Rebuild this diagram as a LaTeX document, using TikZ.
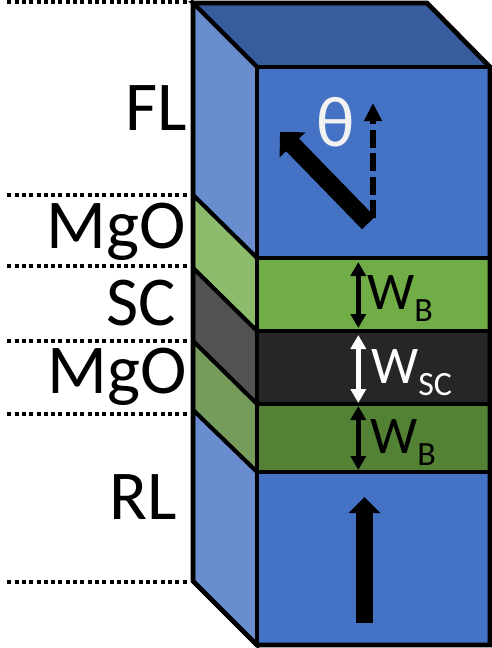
\documentclass[tikz,border=0pt]{standalone}
\usepackage{fontspec}
\setmainfont{Carlito}
\usepackage{xcolor}
\usepackage{tikz}
\usetikzlibrary{arrows.meta, positioning, calc}
\definecolor{frontblue}{HTML}{4472C4}
\definecolor{topblue}{HTML}{385D9E}
\definecolor{sideblue}{HTML}{6A8DD0}
\definecolor{frontgreen}{HTML}{70AD47}
\definecolor{sidegreen}{HTML}{8DBB6C}
\definecolor{frontblack}{HTML}{262626}
\definecolor{sideblack}{HTML}{525252}
\definecolor{frontdgreen}{HTML}{548235}
\definecolor{sidedgreen}{HTML}{769C5B}
\definecolor{thetawhite}{HTML}{F2F2F2}
\tikzset{
    face/.style={draw=black, line width=4.6pt, line join=miter},
    sideface/.style={draw=black, line width=4pt, line join=miter},
    levelline/.style={black, line width=4pt, dash pattern=on 4pt off 3.3pt},
    layerlbl/.style={font=\fontsize{70}{70}\selectfont, text=black, inner sep=0pt, anchor=base east},
    widthlbl/.style={font=\fontsize{53}{53}\selectfont, inner sep=0pt, anchor=base west},
    moment/.style={-{Triangle[length=18pt,width=35pt]}, line width=18pt, black},
    refdir/.style={-{Triangle[length=18pt,width=17pt]}, line width=6pt, black, dash pattern=on 18pt off 5.5pt},
    pinned/.style={-{Triangle[length=16pt,width=31pt]}, line width=17pt, black},
    widtharrow/.style={{Triangle[length=14pt,width=15pt]}-{Triangle[length=14pt,width=15pt]}, line width=5.5pt},
}
\newcommand{\lowlbl}[1]{\raisebox{-12pt}{\fontsize{34}{34}\selectfont #1}}
\begin{document}
\begin{tikzpicture}[x=1pt, y=-1pt]
    \useasboundingbox (0,0) rectangle (492,648);
    % side and top faces
    \path[sideface, fill=topblue] (193,3) -- (427,3) -- (490,67) -- (257,67) -- cycle;
    \path[sideface, fill=sideblue] (193,3) -- (257,67) -- (257,258) -- (193,195) -- cycle;
    \path[sideface, fill=sidegreen] (193,195) -- (257,258) -- (257,331) -- (193,268) -- cycle;
    \path[sideface, fill=sideblack] (193,268) -- (257,331) -- (257,404) -- (193,341) -- cycle;
    \path[sideface, fill=sidedgreen] (193,341) -- (257,404) -- (257,472) -- (193,410) -- cycle;
    \path[sideface, fill=sideblue] (193,410) -- (257,472) -- (257,645) -- (193,581) -- cycle;
    % front faces
    \path[sideface, fill=frontblue] (257,67) rectangle (490,258);
    \path[sideface, fill=frontgreen] (257,258) rectangle (490,331);
    \path[sideface, fill=frontblack] (257,331) rectangle (490,404);
    \path[sideface, fill=frontdgreen] (257,404) rectangle (490,472);
    \path[sideface, fill=frontblue] (257,472) rectangle (490,645);
    \draw[face] (193,3) -- (427,3) -- (490,67) -- (490,645) -- (257,645) -- (193,581) -- cycle;
    % level lines
    \foreach \lvl in {1.5,195,266,340.5,414,581.5}
        \draw[levelline] (7.3,\lvl) -- (188,\lvl);
    % layer names
    \node[layerlbl] (fl) at (187,130) {FL};
    \node[layerlbl] (mgotop) at (186,248) {MgO};
    \node[layerlbl] (sc) at (176,325) {SC};
    \node[layerlbl] (mgobot) at (187,393) {MgO};
    \node[layerlbl] (rl) at (177,519) {RL};
    % free layer moment
    \coordinate (flend) at (368.5,223);
    \coordinate (fltip) at (280,132);
    \coordinate (refend) at (373,218);
    \coordinate (reftip) at (373,103);
    \draw[refdir] (refend) -- (reftip);
    \draw[moment] (flend) -- (fltip);
    \node[font=\fontsize{72}{72}\selectfont, text=thetawhite, inner sep=0pt, anchor=base] (theta) at (336,146.5) {θ};
    % barrier widths
    \coordinate (b1top) at (358.3,262);
    \coordinate (b1bot) at (358.3,328);
    \coordinate (sctop) at (358.3,335);
    \coordinate (scbot) at (358.3,403);
    \coordinate (b2top) at (358.3,406);
    \coordinate (b2bot) at (358.3,470);
    \draw[widtharrow, black] (b1top) -- (b1bot);
    \draw[widtharrow, white] (sctop) -- (scbot);
    \draw[widtharrow, black] (b2top) -- (b2bot);
    \node[widthlbl, text=black] (wb1) at (367,309) {W\lowlbl{B}};
    \node[widthlbl, text=white] (wsc) at (371,383) {W\lowlbl{SC}};
    \node[widthlbl, text=black] (wb2) at (370,453) {W\lowlbl{B}};
    % reference layer moment
    \coordinate (rlend) at (364.5,622.7);
    \coordinate (rltip) at (364.5,497);
    \draw[pinned] (rlend) -- (rltip);
\end{tikzpicture}
\end{document}
